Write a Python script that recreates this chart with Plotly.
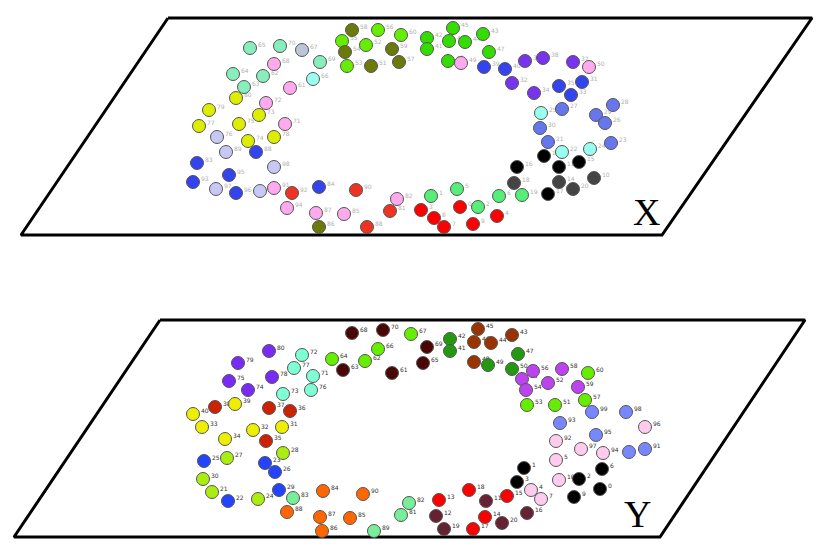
import plotly.graph_objects as go

# plane outlines (corners, screen-like units, y grows downwards)
plane_x_corners_x = [168, 812, 662, 21, 168]
plane_x_corners_y = [18, 18, 235, 235, 18]
plane_y_corners_x = [160, 805, 660, 14, 160]
plane_y_corners_y = [320, 320, 537, 537, 320]

OLIVE = "#6b7a0a"
LIME = "#66ee00"
GREEN = "#33dd00"
MINT = "#88eebb"
GREYBLUE = "#bcc4d8"
AQUA = "#99ffee"
PINK = "#ffaaee"
YELLOW = "#ddee00"
LAVENDER = "#c8c8f4"
BLUE = "#3344ee"
RED_ORANGE = "#ee3322"
RED = "#ff0000"
PURPLE = "#7733ee"
CORNFLOWER = "#6677ee"
LIGHT_GREEN = "#55ee77"
BLACK = "#000000"
DARK_GREY = "#444444"

# ---- plane X ----
x_pos_x = [352, 378, 401, 342, 366, 392, 345, 347, 371, 399,
           250, 280, 302, 274, 320, 233, 263, 313, 244, 290,
           236, 266, 209, 259, 239, 285, 199, 217, 248, 274,
           226, 256, 197, 274, 229, 193, 216, 236, 260, 274,
           292, 319, 356, 397, 390, 287, 316, 344, 319, 367,
           453, 427, 449, 465, 483, 427, 489, 448, 461, 484,
           505, 525, 543, 573, 589, 512, 534, 559, 571, 582,
           541, 562, 613, 596, 605, 540, 548, 562, 590, 611,
           544, 559, 579, 517, 514, 559, 573, 594, 548, 522,
           499, 457, 431, 478, 460, 421, 497, 434, 444, 473]
x_pos_y = [30, 30, 35, 41, 45, 49, 52, 66, 66, 62,
           48, 46, 50, 64, 62, 74, 76, 79, 87, 88,
           98, 103, 110, 115, 124, 124, 126, 137, 141, 137,
           152, 152, 163, 167, 175, 182, 189, 193, 191, 188,
           193, 187, 190, 199, 211, 208, 213, 214, 227, 227,
           28, 38, 41, 42, 34, 49, 52, 61, 63, 67,
           69, 61, 58, 62, 67, 83, 93, 86, 95, 82,
           113, 109, 105, 115, 123, 128, 142, 152, 149, 143,
           156, 167, 162, 167, 183, 182, 189, 178, 194, 195,
           196, 189, 196, 207, 207, 210, 216, 218, 227, 224]
x_colors = [OLIVE, LIME, LIME, LIME, LIME, OLIVE, OLIVE, LIME, OLIVE, OLIVE,
            MINT, MINT, GREYBLUE, PINK, MINT, MINT, MINT, AQUA, MINT, PINK,
            YELLOW, PINK, YELLOW, YELLOW, YELLOW, PINK, YELLOW, LAVENDER, YELLOW, YELLOW,
            LAVENDER, BLUE, BLUE, LAVENDER, BLUE, BLUE, LAVENDER, BLUE, LAVENDER, PINK,
            RED_ORANGE, BLUE, RED_ORANGE, PINK, RED_ORANGE, PINK, PINK, PINK, OLIVE, RED_ORANGE,
            GREEN, GREEN, GREEN, GREEN, GREEN, GREEN, GREEN, GREEN, PINK, BLUE,
            BLUE, PURPLE, PURPLE, PURPLE, PINK, PURPLE, PURPLE, BLUE, BLUE, BLUE,
            AQUA, CORNFLOWER, CORNFLOWER, CORNFLOWER, CORNFLOWER, CORNFLOWER, CORNFLOWER, AQUA, AQUA, CORNFLOWER,
            BLACK, BLACK, BLACK, BLACK, DARK_GREY, DARK_GREY, DARK_GREY, DARK_GREY, BLACK, LIGHT_GREEN,
            LIGHT_GREEN, LIGHT_GREEN, LIGHT_GREEN, LIGHT_GREEN, RED, RED, RED, RED, RED, RED]
x_labels = ["58", "56", "60", "55", "52", "59", "54", "53", "51", "57",
            "65", "70", "67", "68", "69", "64", "62", "66", "63", "61",
            "80", "72", "79", "73", "75", "71", "77", "76", "74", "78",
            "89", "88", "83", "98", "95", "93", "97", "96", "99", "91",
            "92", "84", "90", "82", "81", "94", "87", "85", "86", "88",
            "45", "42", "46", "44", "43", "41", "47", "48", "49", "39",
            "40", "36", "38", "37", "50", "32", "34", "35", "33", "31",
            "25", "27", "28", "29", "26", "30", "21", "22", "24", "23",
            "12", "11", "15", "16", "18", "14", "20", "10", "17", "19",
            "6", "5", "1", "2", "0", "3", "4", "8", "7", "9"]

MAROON = "#4a0505"
PURPLE_Y = "#7a2af5"
AQUAMARINE = "#7fffd4"
BRICK = "#cc2200"
YELLOW_Y = "#eeee00"
BROWN = "#993300"
GREEN_Y = "#229911"
VIOLET = "#bb44ee"
PERIWINKLE = "#7788ff"
PALE_PINK = "#ffccee"
YELLOW_GREEN = "#aaee11"
BLUE_Y = "#2244ff"
ORANGE = "#ff6600"
SEA_GREEN = "#77ee99"
WINE = "#662233"

# ---- plane Y ----
y_pos_x = [352, 383, 411, 378, 269, 302, 332, 365, 238, 294,
           343, 392, 313, 272, 229, 248, 311, 283, 215, 235,
           269, 290, 193, 202, 253, 282, 225, 266, 283, 204,
           227, 265, 275, 203, 279, 323, 363, 212, 228, 258,
           293, 409, 287, 320, 350, 401, 322, 374, 478, 450,
           512, 474, 491, 427, 450, 423, 518, 474, 488, 512,
           533, 562, 588, 522, 548, 578, 526, 585, 527, 555,
           592, 626, 560, 645, 596, 556, 581, 603, 629, 645,
           524, 556, 602, 517, 559, 579, 600, 531, 541, 574,
           469, 507, 486, 439, 436, 485, 527, 502, 444, 473]
y_pos_y = [333, 330, 334, 349, 351, 355, 359, 361, 363, 368,
           370, 373, 376, 377, 381, 390, 390, 394, 407, 404,
           408, 411, 414, 427, 430, 427, 439, 441, 453, 461,
           458, 463, 472, 479, 490, 491, 494, 492, 501, 499,
           498, 503, 512, 517, 518, 515, 531, 531, 329, 339,
           335, 342, 343, 347, 351, 363, 354, 362, 365, 369,
           371, 369, 373, 379, 383, 387, 390, 400, 405, 405,
           412, 412, 423, 427, 435, 441, 449, 453, 452, 449,
           468, 460, 469, 482, 480, 479, 489, 490, 499, 497,
           490, 496, 501, 500, 516, 517, 513, 523, 529, 529]
y_colors = [MAROON, MAROON, LIME, LIME, PURPLE_Y, AQUAMARINE, LIME, LIME, PURPLE_Y, AQUAMARINE,
            MAROON, MAROON, AQUAMARINE, PURPLE_Y, PURPLE_Y, PURPLE_Y, AQUAMARINE, AQUAMARINE, BRICK, YELLOW_Y,
            BRICK, BRICK, YELLOW_Y, YELLOW_Y, YELLOW_Y, YELLOW_Y, YELLOW_Y, BRICK, YELLOW_GREEN, BLUE_Y,
            YELLOW_GREEN, BLUE_Y, BLUE_Y, YELLOW_GREEN, BLUE_Y, ORANGE, ORANGE, YELLOW_GREEN, BLUE_Y, YELLOW_GREEN,
            SEA_GREEN, SEA_GREEN, ORANGE, ORANGE, ORANGE, SEA_GREEN, ORANGE, SEA_GREEN, BROWN, GREEN_Y,
            BROWN, BROWN, BROWN, MAROON, GREEN_Y, MAROON, GREEN_Y, BROWN, GREEN_Y, GREEN_Y,
            VIOLET, VIOLET, LIME, VIOLET, VIOLET, VIOLET, VIOLET, LIME, LIME, LIME,
            PERIWINKLE, PERIWINKLE, PERIWINKLE, PALE_PINK, PERIWINKLE, PALE_PINK, PALE_PINK, PALE_PINK, PERIWINKLE, PERIWINKLE,
            BLACK, PALE_PINK, BLACK, BLACK, PALE_PINK, BLACK, BLACK, PALE_PINK, PALE_PINK, BLACK,
            RED, RED, WINE, RED, WINE, RED, WINE, WINE, WINE, RED]
y_labels = ["68", "70", "67", "66", "80", "72", "64", "62", "79", "77",
            "63", "61", "71", "78", "75", "74", "76", "73", "38", "39",
            "37", "36", "40", "33", "32", "31", "34", "35", "28", "25",
            "27", "23", "26", "30", "29", "84", "90", "21", "22", "24",
            "83", "82", "88", "87", "85", "81", "86", "89", "45", "42",
            "43", "46", "44", "69", "41", "65", "47", "48", "49", "50",
            "56", "58", "60", "55", "52", "59", "54", "57", "53", "51",
            "99", "98", "93", "96", "95", "92", "97", "94", "", "91",
            "1", "5", "6", "3", "10", "2", "0", "4", "7", "9",
            "18", "15", "11", "13", "12", "14", "16", "20", "19", "17"]

# the page body keeps its default 8px margin, so the figure is shrunk
# and the axis ranges start at 8 to keep the window coordinates
PAGE_MARGIN = 8
WIN_W, WIN_H = 830, 554


def plane_traces(cx, cy, px, py, colors, labels, label_color):
    outline = go.Scatter(
        x=cx, y=cy, mode="lines", fill="toself", fillcolor="white",
        line=dict(color="black", width=3), hoverinfo="skip",
    )
    text = go.Scatter(
        x=[v + 8 for v in px], y=[v - 3 for v in py], mode="text",
        text=labels, textposition="middle right",
        textfont=dict(size=6, color=label_color, family="DejaVu Sans"),
        hoverinfo="skip",
    )
    dots = go.Scatter(
        x=px, y=py, mode="markers", text=labels,
        marker=dict(size=13, color=colors, line=dict(color="#555555", width=1)),
    )
    return [outline, text, dots]


fig = go.Figure()
fig.add_traces(plane_traces(plane_x_corners_x, plane_x_corners_y, x_pos_x, x_pos_y,
                            x_colors, x_labels, "#b0b0b0"))
fig.add_traces(plane_traces(plane_y_corners_x, plane_y_corners_y, y_pos_x, y_pos_y,
                            y_colors, y_labels, "#333333"))

fig.add_annotation(x=646, y=212, text="X", showarrow=False,
                   font=dict(size=38, family="Liberation Serif", color="black"))
fig.add_annotation(x=637, y=514, text="Y", showarrow=False,
                   font=dict(size=38, family="Liberation Serif", color="black"))

fig.update_layout(
    width=WIN_W - 2 * PAGE_MARGIN, height=WIN_H - 2 * PAGE_MARGIN,
    margin=dict(l=0, r=0, t=0, b=0),
    paper_bgcolor="white", plot_bgcolor="white",
    showlegend=False,
    xaxis=dict(range=[PAGE_MARGIN, WIN_W - PAGE_MARGIN], visible=False, fixedrange=True),
    yaxis=dict(range=[WIN_H - PAGE_MARGIN, PAGE_MARGIN], visible=False, fixedrange=True),
)

fig.write_html("out.html")
